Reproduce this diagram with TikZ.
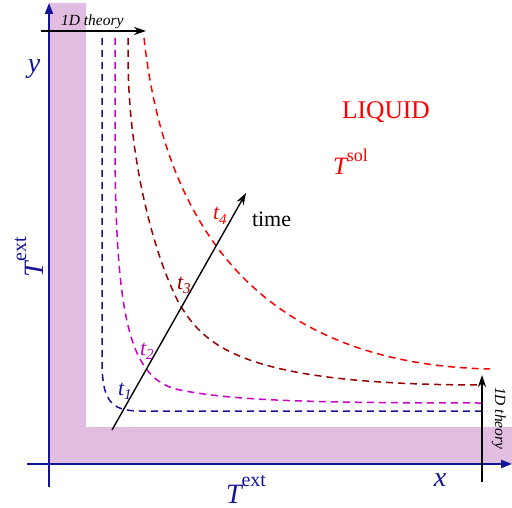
\documentclass[tikz,border=0pt]{standalone}
\usepackage{fontspec}
\setmainfont{Liberation Serif}
\usetikzlibrary{arrows.meta}
\definecolor{navy}{RGB}{20,20,150}
\definecolor{bandpink}{RGB}{225,190,225}
\definecolor{curvemag}{RGB}{200,0,200}
\definecolor{curvedred}{RGB}{150,0,0}
\definecolor{curvered}{RGB}{255,0,0}
\newcommand{\myTsup}[4]{{\fontsize{#1}{#1}\selectfont\itshape T}\raisebox{#4}{\fontsize{#2}{#2}\selectfont #3}}
\newcommand{\mytlab}[1]{{\fontsize{22}{22}\selectfont\itshape t\raisebox{-4.5pt}{\fontsize{15}{15}\selectfont #1}}}
\begin{document}
\begin{tikzpicture}[x=1pt,y=-1pt,
  curve/.style={line width=1.5pt, dash pattern=on 7pt off 5pt},
  axis/.style={navy, line width=2pt, -{Triangle[length=11pt,width=8pt]}},
  blackarrow/.style={black, line width=1.4pt, -{Stealth[length=12pt,width=8pt]}},
  lbl/.style={inner sep=0pt, outer sep=0pt},
  axlbl/.style={lbl, text=navy, font=\fontsize{28}{30}\selectfont},
  thlbl/.style={lbl, font=\fontsize{15.5}{16}\selectfont\itshape},
]
\useasboundingbox (0,0) rectangle (512,508);
% band
\fill[bandpink] (49,3) -- (86,3) -- (86,427) -- (512,427) -- (512,464) -- (49,464) -- cycle;
% axes
\coordinate (ybot) at (49,487);
\coordinate (ytop) at (49,3);
\coordinate (xleft) at (27,464);
\coordinate (xright) at (512,464);
\draw[axis] (ybot) -- (ytop);
\draw[axis] (xleft) -- (xright);
% curves
\draw[curve, navy] (102,38) -- (102,360) .. controls (102,400) and (110,411) .. (140,411) -- (487,411);
\draw[curve, curvemag] (115,38) -- (115,150) .. controls (116,320) and (130,380) .. (180,390) .. controls (230,400) and (300,403) .. (483,403);
\draw[curve, curvedred] (128,38) -- (128,60) .. controls (129,170) and (158,265) .. (180,305) .. controls (205,345) and (240,385) .. (483,385);
\draw[curve, curvered] (144,38) .. controls (165,230) and (262,364) .. (490,369);
% 1D theory arrows
\coordinate (topA) at (41,31);
\coordinate (topB) at (146,31);
\draw[blackarrow] (topA) -- (topB);
\coordinate (rightA) at (482,482);
\coordinate (rightB) at (482,375);
\draw[blackarrow] (rightA) -- (rightB);
\node[thlbl, anchor=base west] (th1) at (61,26) {1D theory};
\node[thlbl, anchor=base west, rotate=-90] (th2) at (495,387) {1D theory};
% time arrow
\coordinate (tA) at (112,430);
\coordinate (tB) at (246,193);
\draw[blackarrow] (tA) -- (tB);
\node[lbl, anchor=base west, font=\fontsize{22}{22}\selectfont] (time) at (252,226) {time};
\node[lbl, anchor=base west, text=navy] (t1) at (118,395) {\mytlab{1}};
\node[lbl, anchor=base west, text=curvemag] (t2) at (140,355) {\mytlab{2}};
\node[lbl, anchor=base west, text=curvedred] (t3) at (177,289) {\mytlab{3}};
\node[lbl, anchor=base west, text=curvered] (t4) at (213,220) {\mytlab{4}};
% axis labels
\node[axlbl, anchor=base] (ylab) at (34,73) {\itshape y};
\node[axlbl, anchor=base] (xlab) at (440,486) {\itshape x};
\node[axlbl, anchor=base west] (Tbot) at (226,503) {\myTsup{28}{20}{ext}{17pt}};
\node[axlbl, anchor=base west, rotate=90] (Tleft) at (43,277) {\myTsup{28}{20}{ext}{17pt}};
% liquid
\node[lbl, anchor=base, text=curvered, font=\fontsize{25.5}{26}\selectfont] (liq) at (386,119) {LIQUID};
\node[lbl, anchor=base west, text=curvered] (Tsol) at (333,175) {\myTsup{25}{18}{sol}{13pt}};
\end{tikzpicture}
\end{document}
